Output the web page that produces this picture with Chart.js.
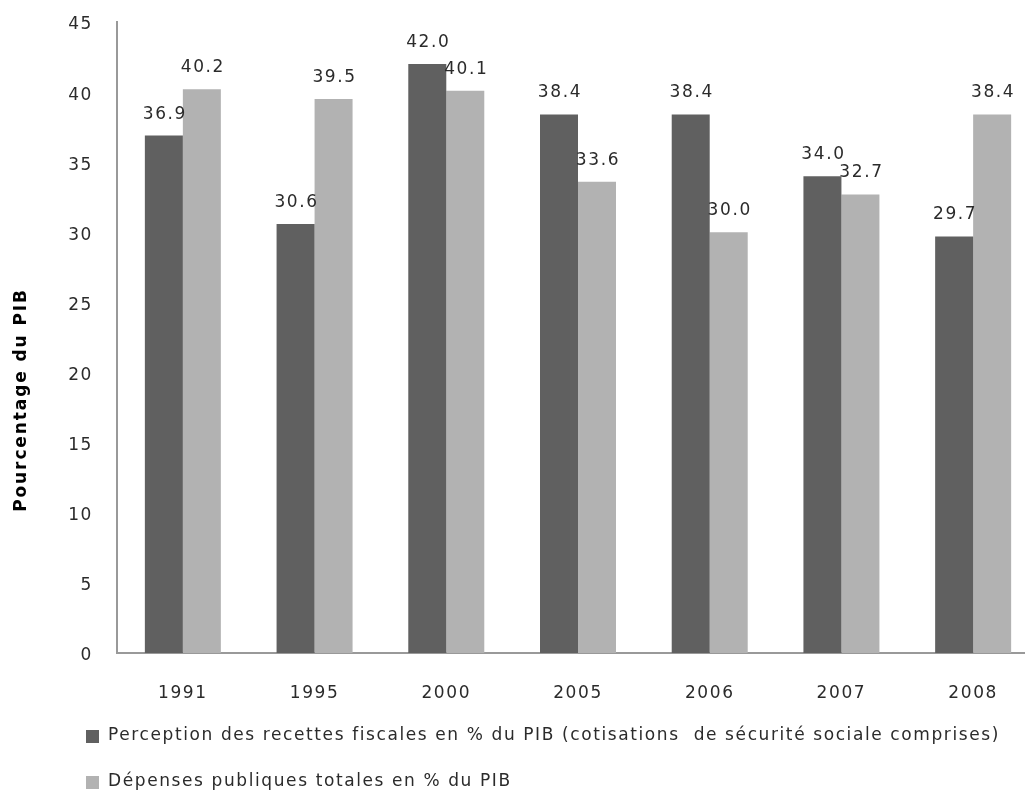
<!DOCTYPE html>
<html lang="fr">
<head>
<meta charset="utf-8">
<script src="https://cdn.jsdelivr.net/npm/chart.js@4.4.1/dist/chart.umd.min.js"></script>
<style>
  html, body { margin: 0; padding: 0; background: #fff; overflow: hidden; }
  #wrap { width: 1025px; height: 792px; overflow: hidden; position: relative; }
  #box { width: 1045px; height: 792px; position: absolute; left: 0; top: 0; }
</style>
</head>
<body>
<div id="wrap"><div id="box"><canvas id="c"></canvas></div></div>
<script>
const years = ['1991', '1995', '2000', '2005', '2006', '2007', '2008'];
const recettes = [36.9, 30.6, 42.0, 38.4, 38.4, 34.0, 29.7];
const depenses = [40.2, 39.5, 40.1, 33.6, 30.0, 32.7, 38.4];
const seriesNames = [
  'Perception des recettes fiscales en % du PIB (cotisations  de sécurité sociale comprises)',
  'Dépenses publiques totales en % du PIB'
];
const yTitle = 'Pourcentage du PIB';

const DARK = '#606060';
const LIGHT = '#b2b2b2';
const TEXT = '#2b2b2b';
const FONT = 'DejaVu Sans';
const SPACING = '1.6px';

// wide, loosely tracked text everywhere on the canvas
const tracking = {
  id: 'tracking',
  beforeLayout(chart) { chart.ctx.letterSpacing = SPACING; },
  beforeDraw(chart) { chart.ctx.letterSpacing = SPACING; }
};

// vertical axis title, centred on the whole canvas height
const axisTitle = {
  id: 'axisTitle',
  afterDraw(chart) {
    const ctx = chart.ctx;
    ctx.save();
    ctx.letterSpacing = '1.9px';
    ctx.font = 'bold 17px "' + FONT + '"';
    ctx.fillStyle = '#000';
    ctx.textAlign = 'center';
    ctx.textBaseline = 'middle';
    ctx.translate(22, 400);
    ctx.rotate(-Math.PI / 2);
    ctx.fillText(yTitle, 0, 0);
    ctx.restore();
  }
};

// value labels above every bar
const valueLabels = {
  id: 'valueLabels',
  afterDatasetsDraw(chart) {
    const ctx = chart.ctx;
    ctx.save();
    ctx.letterSpacing = SPACING;
    ctx.font = '17px "' + FONT + '"';
    ctx.fillStyle = TEXT;
    ctx.textAlign = 'center';
    ctx.textBaseline = 'bottom';
    chart.data.datasets.forEach((ds, i) => {
      chart.getDatasetMeta(i).data.forEach((bar, j) => {
        ctx.fillText(ds.data[j].toFixed(1), bar.x + 1, bar.y - 13);
      });
    });
    ctx.restore();
  }
};

// two-row legend under the axis
const bottomLegend = {
  id: 'bottomLegend',
  afterDraw(chart) {
    const ctx = chart.ctx;
    ctx.save();
    ctx.letterSpacing = SPACING;
    ctx.font = '17px "' + FONT + '"';
    ctx.textBaseline = 'middle';
    ctx.textAlign = 'left';
    const rows = [736, 782];
    const colors = [DARK, LIGHT];
    seriesNames.forEach((name, i) => {
      ctx.fillStyle = colors[i];
      ctx.fillRect(86, rows[i] - 6, 13, 13);
      ctx.fillStyle = TEXT;
      ctx.fillText(name, 108, rows[i]);
    });
    ctx.restore();
  }
};

new Chart(document.getElementById('c'), {
  type: 'bar',
  data: {
    labels: years,
    datasets: [
      { label: seriesNames[0], data: recettes, backgroundColor: DARK },
      { label: seriesNames[1], data: depenses, backgroundColor: LIGHT }
    ]
  },
  options: {
    responsive: true,
    maintainAspectRatio: false,
    animation: false,
    layout: { padding: { top: 22, right: 6, bottom: 0, left: 0 } },
    datasets: { bar: { categoryPercentage: 0.577, barPercentage: 1 } },
    plugins: {
      legend: { display: false },
      tooltip: { enabled: false }
    },
    scales: {
      x: {
        afterFit(scale) {
          scale.height = 139;
          scale.paddingLeft = 0;
          scale.paddingRight = 0;
        },
        grid: { display: false, drawTicks: false },
        border: { display: true, color: '#999', width: 2 },
        ticks: { color: TEXT, font: { family: FONT, size: 17 }, padding: 30 }
      },
      y: {
        min: 0, max: 45,
        afterFit(scale) {
          scale.width = 117;
          scale.paddingTop = 0;
          scale.paddingBottom = 0;
        },
        grid: { display: false, drawTicks: false },
        border: { display: true, color: '#999', width: 2 },
        ticks: { stepSize: 5, color: TEXT, font: { family: FONT, size: 17 }, padding: 24, labelOffset: 3 }
      }
    }
  },
  plugins: [tracking, axisTitle, valueLabels, bottomLegend]
});
</script>
</body>
</html>
